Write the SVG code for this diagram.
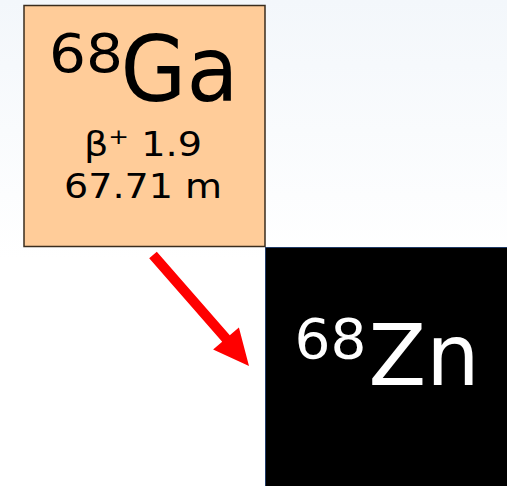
<svg xmlns="http://www.w3.org/2000/svg" width="507" height="486" viewBox="0 0 507 486">
  <defs>
    <linearGradient id="bg" x1="0" y1="0" x2="0" y2="260" gradientUnits="userSpaceOnUse">
      <stop offset="0" stop-color="#f3f7fb"/>
      <stop offset="1" stop-color="#ffffff"/>
    </linearGradient>
  </defs>
  <style>
    text { font-family: "DejaVu Sans", Verdana, sans-serif; }
    .dark { fill: #000000; }
    .light { fill: #ffffff; }
  </style>
  <rect x="0" y="0" width="507" height="486" fill="url(#bg)"/>
  <g id="ga68">
    <rect x="24" y="5.5" width="241" height="241" fill="#ffcc99" stroke="#3a2d1e" stroke-width="1.5"/>
    <text class="dark" x="49" y="72" font-size="54" textLength="74" lengthAdjust="spacingAndGlyphs">68</text>
    <text class="dark" x="120.5" y="101" font-size="90" textLength="118" lengthAdjust="spacingAndGlyphs">Ga</text>
    <text class="dark" x="84" y="156" font-size="34" textLength="118" lengthAdjust="spacingAndGlyphs">β<tspan font-size="22" dy="-12">+</tspan><tspan dy="12"> 1.9</tspan></text>
    <text class="dark" x="64" y="198" font-size="34" textLength="158" lengthAdjust="spacingAndGlyphs">67.71 m</text>
  </g>
  <g id="zn68">
    <rect x="265.5" y="247.5" width="243" height="240" fill="#000000" stroke="#1f3a66" stroke-width="1"/>
    <text class="light" x="294.5" y="358" font-size="55" textLength="72" lengthAdjust="spacingAndGlyphs">68</text>
    <text class="light" x="368.5" y="385" font-size="86" textLength="111" lengthAdjust="spacingAndGlyphs">Zn</text>
  </g>
  <g id="connectors">
    <polygon points="156.8,251.7 229.8,335.2 238.9,327.4 249,366 213.1,349.6 222.2,341.8 149.2,258.3" fill="#ff0000"/>
  </g>
</svg>
